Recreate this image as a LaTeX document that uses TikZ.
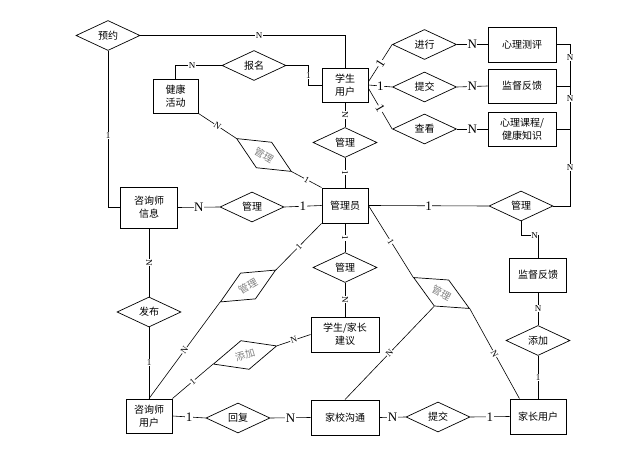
\documentclass[tikz,border=0pt]{standalone}
\usepackage{fontspec}
\setmainfont{Liberation Serif}
\newfontfamily\cjk{Noto Sans CJK SC}
\usetikzlibrary{shapes.geometric}
\newcommand{\drawthin}{\draw[line width=.6pt]}
\tikzset{
  ent/.style={draw, line width=.9pt, align=center, inner sep=1pt,
    font=\cjk\fontsize{10}{13}\selectfont},
  rel/.style={draw, diamond, aspect=2.2, line width=.7pt, inner sep=1pt,
    minimum width=64pt, minimum height=30pt, font=\cjk\fontsize{10}{12}\selectfont},
  relrot/.style={rel, text=gray},
  lbl/.style={fill=white, inner sep=.5pt, font=\fontsize{9}{9}\selectfont},
  lblb/.style={lbl, font=\fontsize{13}{13}\selectfont}
}
\begin{document}
\begin{tikzpicture}[x=1pt,y=-1pt]
\useasboundingbox (0,0) rectangle (638,449);
% entities
\node[ent, minimum width=46pt, minimum height=34pt] (xs) at (345,85) {学生\\用户};
\node[ent, minimum width=45pt, minimum height=34pt] (hd) at (175.5,96) {健康\\活动};
\node[ent, minimum width=68pt, minimum height=35pt] (cp) at (522,44.5) {心理测评};
\node[ent, minimum width=68pt, minimum height=34pt] (jf) at (522,86) {监督反馈};
\node[ent, minimum width=68pt, minimum height=34pt] (kc) at (522,129) {心理课程/\\健康知识};
\node[ent, minimum width=46pt, minimum height=35pt] (gly) at (345,205.5) {管理员};
\node[ent, minimum width=57pt, minimum height=41pt] (zx) at (149,207.5) {咨询师\\信息};
\node[ent, minimum width=68pt, minimum height=35pt] (jy) at (345,334.5) {学生/家长\\建议};
\node[ent, minimum width=57pt, minimum height=34pt] (jf2) at (538,275) {监督反馈};
\node[ent, minimum width=56pt, minimum height=35pt] (jz) at (538,416.5) {家长用户};
\node[ent, minimum width=68pt, minimum height=35pt] (jx) at (345,417.5) {家校沟通};
\node[ent, minimum width=46pt, minimum height=34pt] (zy) at (149,416) {咨询师\\用户};
% relations
\node[rel] (yy) at (108,35.5) {预约};
\node[rel] (bm) at (254,65.5) {报名};
\node[rel] (jinx) at (424.5,44.5) {进行};
\node[rel] (tj) at (424.5,87) {提交};
\node[rel] (ck) at (424.5,129) {查看};
\node[rel] (gl1) at (345,142.5) {管理};
\node[rel] (gl2) at (521,206) {管理};
\node[rel] (gl3) at (252,207) {管理};
\node[rel] (gl4) at (345,267.5) {管理};
\node[rel] (fb) at (149,312) {发布};
\node[rel] (tj2) at (438,417) {提交};
\node[rel] (hf) at (238,418) {回复};
\node[rel] (tjia) at (538,340.5) {添加};
\node[relrot, rotate=-31] (rg1) at (264,155) {管理};
\node[relrot, rotate=30] (rg2) at (248,286) {管理};
\node[relrot, rotate=16, minimum width=66pt] (rtj) at (245,355) {添加};
\node[relrot, rotate=-29] (rg3) at (441.5,293) {管理};
\coordinate (rail) at (570,0);
% connectors
\drawthin (yy.east) -| node[lbl,pos=.29]{N} (xs.north);
\drawthin (yy.south) |- node[lbl,pos=.27]{1} (zx.west);
\drawthin (bm.west) -| node[lbl,pos=.32]{N} (hd.north);
\drawthin (bm.east) -- ++(22,0) |- node[lbl,pos=.25]{1} (xs.west);
\drawthin (xs.8) -- node[lblb,sloped]{1} (jinx.west);
\drawthin (xs.east) -- node[lblb]{1} (tj.west);
\drawthin (xs.-8) -- node[lblb,sloped]{1} (ck.west);
\drawthin (jinx.east) -- node[lblb]{N} (cp.west);
\drawthin (tj.east) -- node[lblb]{N} (jf.west);
\drawthin (ck.east) -- node[lblb]{N} (kc.west);
\drawthin (cp.east) -| node[lbl,pos=.66]{N} (jf.east -| rail) -- (jf.east);
\drawthin (jf.east -| rail) -- node[lbl,pos=.3]{N} (kc.east -| rail) -- (kc.east);
\drawthin (kc.east -| rail) |- node[lbl,pos=.25]{N} (gl2.east);
\drawthin (gly.east) -- node[lblb]{1} (gl2.west);
\drawthin (gl2.south) -- ++(0,14) -| node[lbl,pos=.4]{N} (jf2.north);
\drawthin (jf2.south) -- node[lbl]{N} (tjia.north);
\drawthin (tjia.south) -- node[lbl]{1} (jz.north);
\drawthin (jx.east) -- node[lblb]{N} (tj2.west);
\drawthin (tj2.east) -- node[lblb]{1} (jz.west);
\drawthin (zy.east) -- node[lblb]{1} (hf.west);
\drawthin (hf.east) -- node[lblb]{N} (jx.west);
\drawthin (zx.east) -- node[lblb]{N} (gl3.west);
\drawthin (gl3.east) -- node[lblb]{1} (gly.west);
\drawthin (zx.south) -- node[lbl,rotate=-90]{N} (fb.north);
\drawthin (fb.south) -- node[lbl]{1} (zy.north);
\drawthin (xs.south) -- node[lbl,rotate=-90]{N} (gl1.north);
\drawthin (gl1.south) -- node[lbl,rotate=-90]{1} (gly.north);
\drawthin (gly.south) -- node[lbl,rotate=-90]{1} (gl4.north);
\drawthin (gl4.south) -- node[lbl,rotate=-90]{N} (jy.north);
\drawthin (hd.south east) -- node[lbl,sloped]{N} (rg1.west);
\drawthin (rg1.east) -- node[lbl,sloped]{1} (gly.north west);
\drawthin (zy.north) -- node[lbl,sloped]{N} (rg2.west);
\drawthin (rg2.east) -- node[lbl,sloped]{1} (gly.south west);
\drawthin (zy.north east) -- node[lbl,sloped]{1} (rtj.west);
\drawthin (rtj.east) -- node[lbl,sloped]{N} (jy.west);
\drawthin (gly.east) -- node[lbl,sloped]{1} (rg3.west);
\drawthin (rg3.east) -- node[lbl,sloped]{N} (jz.136);
\drawthin (rg3.south) -- node[lbl,sloped]{N} (jx.north);
\end{tikzpicture}
\end{document}
